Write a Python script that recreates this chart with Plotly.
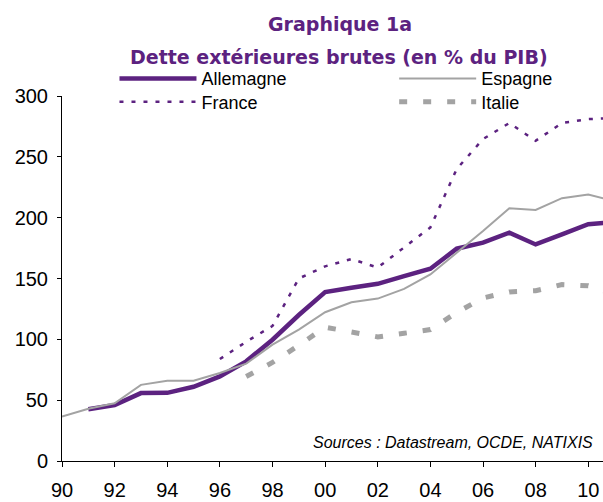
import plotly.graph_objects as go

years = list(range(1990, 2012))
allemagne = [None, 42.6, 46, 55.8, 56, 61, 69.5, 81.9, 99.7, 120, 138.8, 142.4, 145.6, 152, 158, 174.5, 179.5, 187.7, 178, 186.3, 194.6, 196.5]
espagne = [36.5, 43, 47.5, 62.6, 66, 66, 72.3, 80, 95.6, 108, 122.3, 130.5, 133.5, 141.5, 153.3, 171.2, 189, 207.7, 206.4, 216, 219, 213.5]
france = [None, None, None, None, None, None, 83.8, 98, 111, 150, 160, 166, 159, 175.3, 192, 240, 264.6, 277.8, 263.2, 277.8, 281, 282]
italie = [None, None, None, None, None, None, None, 69.5, 81, 95, 110, 106, 102, 105, 108, 122, 134, 139, 140, 145, 144, 137]

xtick_vals = list(range(1990, 2011, 2))
xtick_text = ["90", "92", "94", "96", "98", "00", "02", "04", "06", "08", "10"]
ytick_vals = [0, 50, 100, 150, 200, 250, 300]

PURPLE = "#5C2280"
GREY = "#A3A3A3"
FONT = "Liberation Sans, Arial, sans-serif"

fig = go.Figure()
fig.add_trace(go.Scatter(x=years, y=allemagne, name="Allemagne", mode="lines", legend="legend",
                         line=dict(color=PURPLE, width=4.5)))
fig.add_trace(go.Scatter(x=years, y=espagne, name="Espagne", mode="lines", legend="legend2",
                         line=dict(color=GREY, width=2)))
fig.add_trace(go.Scatter(x=years, y=france, name="France", mode="lines", legend="legend3",
                         line=dict(color=PURPLE, width=2.5, dash="4px,8px")))
fig.add_trace(go.Scatter(x=years, y=italie, name="Italie", mode="lines", legend="legend4",
                         line=dict(color=GREY, width=5, dash="8px,16px")))


def leg(x, y):
    return dict(x=x, xanchor="left", yref="container", y=y, yanchor="top",
                font=dict(size=18, family=FONT), itemwidth=77, bgcolor="rgba(0,0,0,0)")


fig.update_layout(
    width=603, height=502,
    margin=dict(l=62, r=0, t=96, b=41, autoexpand=False),
    paper_bgcolor="white", plot_bgcolor="white",
    font=dict(family=FONT, color="black"),
    showlegend=True,
    legend=leg(0.097, 0.88),
    legend2=leg(0.614, 0.88),
    legend3=leg(0.097, 0.8337),
    legend4=leg(0.614, 0.8337),
    xaxis=dict(range=[1990, 2010.56], tickvals=xtick_vals, ticktext=xtick_text,
               showgrid=False, zeroline=False, showline=True, linecolor="black", linewidth=1,
               ticks="outside", ticklen=5, tickcolor="black", tickfont=dict(size=20),
               ticklabelstandoff=6),
    yaxis=dict(range=[0, 300], tickvals=ytick_vals,
               showgrid=False, zeroline=False, showline=True, linecolor="black", linewidth=1,
               ticks="outside", ticklen=4, tickcolor="black", tickfont=dict(size=20),
               ticklabelstandoff=5),
    annotations=[
        dict(text="<b>Graphique 1a</b>", xref="paper", yref="paper", x=(340 - 62) / 541, y=1.197,
             xanchor="center", yanchor="middle", showarrow=False,
             font=dict(size=19, color=PURPLE, family="DejaVu Sans")),
        dict(text="<b>Dette extérieures brutes (en % du PIB)</b>", xref="paper", yref="paper",
             x=(339 - 62) / 541, y=1.1067, xanchor="center", yanchor="middle", showarrow=False,
             font=dict(size=19, color=PURPLE, family="DejaVu Sans")),
        dict(text="<i>Sources : Datastream, OCDE, NATIXIS</i>", xref="paper", yref="paper",
             x=0.985, y=0.052, xanchor="right", yanchor="middle", showarrow=False,
             font=dict(size=16, color="black", family=FONT)),
    ],
)

fig.write_html("out.html", config={"displayModeBar": False},
               post_script="document.body.style.margin='0';")
